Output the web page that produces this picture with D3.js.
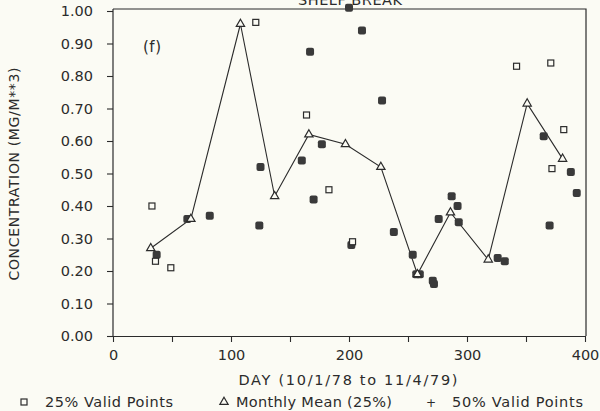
<!DOCTYPE html>
<html><head><meta charset="utf-8">
<script src="https://cdn.jsdelivr.net/npm/d3@7"></script>
<style>
html,body{margin:0;padding:0;background:#fbfbf4;}
svg{display:block;font-family:"DejaVu Sans",sans-serif;}
</style></head>
<body>
<svg id="c" width="600" height="411"></svg>
<script>
// Monthly mean (25%) — triangles joined by a line
const meanDays = [32, 66, 108, 137, 166, 197, 227, 258, 286, 318, 351, 381];
const meanVals = [0.27, 0.36, 0.96, 0.43, 0.62, 0.59, 0.52, 0.19, 0.38, 0.235, 0.715, 0.545];
// 25% valid points — open squares
const p25Days = [33, 36, 49, 121, 164, 183, 203, 342, 371, 382, 372];
const p25Vals = [0.40, 0.23, 0.21, 0.965, 0.68, 0.45, 0.29, 0.83, 0.84, 0.635, 0.515];
// 50% valid points — filled markers
const p50Days = [37, 63, 82, 124, 125, 160, 167, 170, 177, 200, 202, 211, 228, 238, 254, 257, 260, 271, 272, 276, 287, 292, 293, 326, 332, 365, 370, 388, 393];
const p50Vals = [0.25, 0.36, 0.37, 0.34, 0.52, 0.54, 0.875, 0.42, 0.59, 1.01, 0.28, 0.94, 0.725, 0.32, 0.25, 0.19, 0.19, 0.17, 0.16, 0.36, 0.43, 0.40, 0.35, 0.24, 0.23, 0.615, 0.34, 0.505, 0.44];
const xTicks = [0, 50, 100, 150, 200, 250, 300, 350, 400];
const xLabels = ["0", "", "100", "", "200", "", "300", "", "400"];
const yTicks = [0, 0.1, 0.2, 0.3, 0.4, 0.5, 0.6, 0.7, 0.8, 0.9, 1.0];

const ink = "#2b2b2b";
const svg = d3.select("#c");
const x = d3.scaleLinear().domain([0, 400]).range([113, 585]);
const y = d3.scaleLinear().domain([0, 1]).range([336, 11]);

// frame (top and right)
svg.append("path").attr("d", `M${x(0)},9 L${x(400)+1},9 L${x(400)+1},${y(0)}`)
  .attr("fill","none").attr("stroke",ink).attr("stroke-width",1.2);

// axes
const xa = svg.append("g").attr("transform",`translate(0,${y(0)})`)
  .call(d3.axisBottom(x).tickValues(xTicks).tickSize(6).tickSizeOuter(0).tickFormat((d,i)=>xLabels[i]));
const ya = svg.append("g").attr("transform",`translate(${x(0)},0)`)
  .call(d3.axisLeft(y).tickValues(yTicks).tickSize(6).tickSizeOuter(0).tickFormat(d3.format(".2f")));
[xa, ya].forEach(g=>{
  g.select(".domain").attr("stroke",ink).attr("stroke-width",1.2);
  g.selectAll(".tick line").attr("stroke",ink).attr("stroke-width",1.1);
  g.selectAll(".tick text").attr("fill",ink).attr("font-size",14.5).attr("font-family","DejaVu Sans, sans-serif");
});
ya.select(".domain").attr("d",`M0,9 V${y(0)}`);
xa.selectAll(".tick text").attr("dy","1.05em");
ya.selectAll(".tick text").attr("x",-20);

// monthly mean line
const pts = meanDays.map((d,i)=>[d, meanVals[i]]);
svg.append("path").datum(pts)
  .attr("d", d3.line().x(d=>x(d[0])).y(d=>y(d[1])))
  .attr("fill","none").attr("stroke",ink).attr("stroke-width",1.1);

// 50% points
svg.append("g").selectAll("rect").data(p50Days.map((d,i)=>[d,p50Vals[i]])).join("rect")
  .attr("x",d=>x(d[0])-4).attr("y",d=>y(d[1])-4).attr("width",8).attr("height",8)
  .attr("rx",2).attr("fill","#3a3a3a");

// 25% points
svg.append("g").selectAll("rect").data(p25Days.map((d,i)=>[d,p25Vals[i]])).join("rect")
  .attr("x",d=>x(d[0])-3).attr("y",d=>y(d[1])-3).attr("width",6).attr("height",6)
  .attr("fill","#fbfbf4").attr("stroke",ink).attr("stroke-width",1.2);

// triangles
const tri = d3.symbol().type(d3.symbolTriangle).size(30);
svg.append("g").selectAll("path").data(pts).join("path")
  .attr("d",tri).attr("transform",d=>`translate(${x(d[0])},${y(d[1])})`)
  .attr("fill","#fbfbf4").attr("stroke",ink).attr("stroke-width",1.2);

// texts
function txt(xp, yp, s, len, size, anchor){
  const t = svg.append("text").attr("x",xp).attr("y",yp).attr("font-size",size||14)
    .attr("fill",ink).attr("text-anchor",anchor||"start").text(s);
  if (len) t.attr("textLength",len).attr("lengthAdjust","spacing");
  return t;
}
txt(350, 5, "SHELF BREAK", 104, 14.5, "middle");
txt(152, 52, "(f)", 18, 15, "middle");
svg.append("text").attr("transform","translate(19,174) rotate(-90)").attr("text-anchor","middle")
  .attr("font-size",14).attr("fill",ink).attr("textLength",213).attr("lengthAdjust","spacing")
  .text("CONCENTRATION (MG/M**3)");
txt(348, 385, "DAY (10/1/78 to 11/4/79)", 219, 14.5, "middle");

// legend
const ly = 402;
svg.append("rect").attr("x",21).attr("y",ly-3).attr("width",6).attr("height",6)
  .attr("fill","none").attr("stroke",ink).attr("stroke-width",1.2);
txt(45, ly+5, "25% Valid Points", 128, 14.5);
svg.append("path").attr("d",tri).attr("transform",`translate(224,${ly})`)
  .attr("fill","none").attr("stroke",ink).attr("stroke-width",1.2);
txt(236, ly+5, "Monthly Mean (25%)", 156, 14.5);
txt(431, ly+5, "+", null, 12, "middle");
txt(452, ly+5, "50% Valid Points", 131, 14.5);
</script>
</body></html>
